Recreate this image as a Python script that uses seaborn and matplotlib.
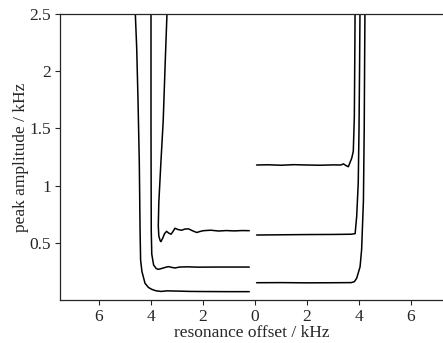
import matplotlib
matplotlib.use("Agg")
from matplotlib import pyplot as plt
from matplotlib.ticker import FuncFormatter
import pandas as pd
import seaborn as sns

# left half: negative offsets (labels shown as absolute values)
a_off = [-4.62, -4.55, -4.50, -4.45, -4.42, -4.40, -4.35, -4.23, -4.10, -3.97, -3.80,
         -3.60, -3.40, -3.0, -2.5, -2.0, -1.0, -0.22]
a_amp = [2.6, 2.2, 1.75, 1.2, 0.6, 0.35, 0.25, 0.146, 0.11, 0.093, 0.08,
         0.075, 0.08, 0.078, 0.075, 0.074, 0.073, 0.073]

b_off = [-4.0, -4.0, -3.99, -3.97, -3.9, -3.8, -3.72, -3.6, -3.45, -3.33, -3.2,
         -3.08, -2.9, -2.6, -2.2, -1.5, -0.8, -0.22]
b_amp = [2.6, 1.5, 0.6, 0.40, 0.306, 0.275, 0.268, 0.275, 0.285, 0.292, 0.285,
         0.28, 0.288, 0.29, 0.287, 0.288, 0.288, 0.288]

c_off = [-3.37, -3.45, -3.53, -3.62, -3.70, -3.72, -3.70, -3.65, -3.62, -3.55, -3.48,
         -3.40, -3.32, -3.23, -3.15, -3.08, -2.95, -2.82, -2.70, -2.56, -2.40, -2.24,
         -2.10, -1.98, -1.7, -1.4, -1.1, -0.8, -0.5, -0.22]
c_amp = [2.6, 2.1, 1.57, 1.2, 0.85, 0.65, 0.56, 0.52, 0.51, 0.54, 0.58,
         0.60, 0.585, 0.575, 0.60, 0.627, 0.615, 0.61, 0.62, 0.622, 0.605, 0.59,
         0.60, 0.606, 0.61, 0.603, 0.607, 0.604, 0.607, 0.606]

# right half
d_off = [0.06, 0.5, 1.0, 1.5, 2.0, 2.5, 3.0, 3.3, 3.4, 3.5, 3.59, 3.65, 3.72, 3.78,
         3.82, 3.84, 3.85]
d_amp = [1.18, 1.182, 1.178, 1.183, 1.18, 1.178, 1.181, 1.18, 1.19, 1.175, 1.165,
         1.20, 1.24, 1.30, 1.6, 2.2, 2.6]

e_off = [0.06, 1.0, 2.0, 3.0, 3.7, 3.85, 3.91, 3.97, 4.0, 4.02, 4.04]
e_amp = [0.568, 0.57, 0.572, 0.573, 0.575, 0.58, 0.73, 1.02, 1.5, 2.0, 2.6]

f_off = [0.06, 1.0, 2.0, 3.0, 3.7, 3.82, 3.91, 4.04, 4.10, 4.17, 4.20, 4.23]
f_amp = [0.151, 0.152, 0.15, 0.151, 0.152, 0.16, 0.19, 0.29, 0.44, 0.87, 1.5, 2.6]

x_ticks = [-6, -4, -2, 0, 2, 4, 6]
y_ticks = [0.5, 1, 1.5, 2, 2.5]

sns.set_style("ticks")
plt.rcParams['font.family'] = ['Liberation Serif', 'DejaVu Serif']

fig = plt.figure(figsize=(4.43, 3.43), dpi=100)
ax = fig.add_axes([60 / 443, 43 / 343, 383 / 443, 286 / 343])

curves = [(a_off, a_amp), (b_off, b_amp), (c_off, c_amp),
          (d_off, d_amp), (e_off, e_amp), (f_off, f_amp)]
for off, amp in curves:
    df = pd.DataFrame({'offset': off, 'amp': amp})
    # estimator=None so repeated offsets are drawn as-is, no averaging
    sns.lineplot(data=df, x='offset', y='amp', sort=False, estimator=None,
                 color='black', linewidth=1.1, ax=ax)

ax.set_xlim(-7.5, 7.23)
ax.set_ylim(0, 2.5)
ax.set_xticks(x_ticks)
ax.xaxis.set_major_formatter(FuncFormatter(lambda v, p: '%d' % abs(v)))
ax.set_yticks(y_ticks)
ax.set_yticklabels(['0.5', '1', '1.5', '2', '2.5'])
ax.spines['right'].set_visible(False)
for s in ['left', 'bottom', 'top']:
    ax.spines[s].set_linewidth(0.9)
ax.tick_params(direction='out', length=3.5, width=0.8, labelsize=12.5, pad=3)
ax.set_xlabel('resonance offset / kHz', fontsize=12.5, labelpad=0)
ax.set_ylabel('peak amplitude / kHz', fontsize=12.5, labelpad=0)

plt.savefig('out.png', dpi=100)
